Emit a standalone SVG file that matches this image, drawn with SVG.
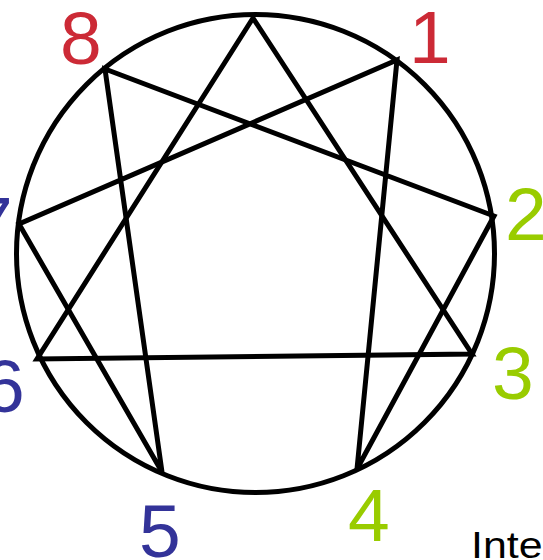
<svg xmlns="http://www.w3.org/2000/svg" width="543" height="560" viewBox="0 0 543 560">
<style>
.lbl{font-family:"Liberation Sans",Arial,sans-serif;font-size:75px}
.red{fill:#cc2a36}
.grn{fill:#99cc00}
.blu{fill:#333399}
.ln{stroke:#000;stroke-width:5;fill:none;stroke-linecap:round}
</style>
<rect width="543" height="560" fill="#fff"/>
<g id="ring">
<circle cx="255.5" cy="253.5" r="239" fill="none" stroke="#000" stroke-width="5"/>
</g>
<g id="connectors">
<path class="ln" d="M253 18 L472 354 L37 359 Z"/>
<path class="ln" d="M397 60 L357 469 L494 216 L105 69 L162 472 L19 224 Z"/>
</g>
<g id="n8"><text class="lbl red" x="60" y="64">8</text></g>
<g id="n1"><text class="lbl red" x="409" y="63">1</text></g>
<g id="n2"><text class="lbl grn" x="505" y="240">2</text></g>
<g id="n3"><text class="lbl grn" x="492" y="399">3</text></g>
<g id="n4"><text class="lbl grn" x="348" y="541">4</text></g>
<g id="n5"><text class="lbl blu" x="139" y="557">5</text></g>
<g id="n6"><text class="lbl blu" x="-17" y="412">6</text></g>
<g id="n7"><text class="lbl blu" x="-29" y="249">7</text></g>
<g id="caption"><text transform="translate(471 558) scale(1.16 1)" x="0" y="0" font-family="Liberation Sans,Arial,sans-serif" font-size="37" fill="#000">Inte</text></g>
</svg>
